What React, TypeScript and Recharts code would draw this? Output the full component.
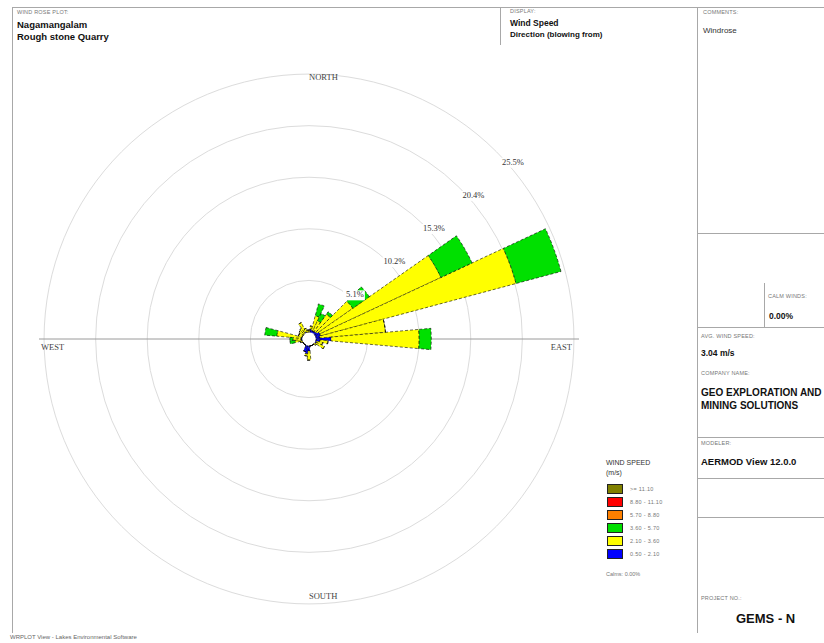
import React from "react";
import {
  RadialBarChart,
  RadialBar,
  PolarAngleAxis,
  PolarRadiusAxis,
  PolarGrid,
} from "recharts";

// 36 sectors, blowing-from direction in degrees
const directions = [
  0, 10, 20, 30, 40, 50, 60, 70, 80, 90, 100, 110, 120, 130, 140, 150, 160, 170,
  180, 190, 200, 210, 220, 230, 240, 250, 260, 270, 280, 290, 300, 310, 320, 330, 340, 350,
];

// frequency (%) per speed class
const speed05to21 = [
  0, 0.3, 0.2, 0.2, 0.2, 0.3, 0.5, 0.5, 0.4, 1.5, 0.4, 0.1, 0.1, 0, 0, 0, 0, 0,
  0.5, 0.8, 0.6, 0, 0, 0, 0, 0, 0.1, 0.1, 0.1, 0, 0, 0, 0, 0.1, 0, 0,
];
const speed21to36 = [
  0.2, 0.3, 1.5, 1.1, 2.1, 4.3, 13.2, 20.0, 6.5, 8.7, 0.8, 0.6, 0.9, 0.2, 0, 0, 0, 0,
  0.9, 0.2, 0, 0, 0, 0, 0, 0.2, 0.6, 0.8, 2.4, 0.4, 0.4, 0.5, 0.6, 1.0, 0.4, 0.2,
];
const speed36to57 = [
  0, 0, 1.2, 0.8, 0.3, 2.0, 3.4, 4.6, 0, 1.2, 0, 0, 0, 0, 0, 0, 0, 0,
  0, 0, 0, 0, 0, 0, 0, 0, 0.5, 0.3, 1.2, 0, 0, 0, 0, 0, 0, 0,
];
const speed57to88 = directions.map(() => 0);
const speed88to111 = directions.map(() => 0);
const speedAbove111 = directions.map(() => 0);

const speedLabels = ["0.50 - 2.10", "2.10 - 3.60", "3.60 - 5.70", "5.70 - 8.80", "8.80 - 11.10", ">= 11.10"];
const speedColors = ["#0000ff", "#ffff00", "#00e000", "#ff8000", "#ff0000", "#808000"];
const speedSeries = [speed05to21, speed21to36, speed36to57, speed57to88, speed88to111, speedAbove111];

const ringTicks = [0, 5.1, 10.2, 15.3, 20.4, 25.5];
const compassDirs = [0, 90, 180, 270];
const compassLabels = ["NORTH", "EAST", "SOUTH", "WEST"];

const rows = directions.map((dir, i) => {
  const row: Record<string, number> = { dir };
  speedSeries.forEach((s, k) => (row["s" + k] = s[i]));
  return row;
});

const W = 824;
const H = 643;
const CX = 309;
const CY = 339;
const R = 270;

const small = { fontSize: 5.5, color: "#777", letterSpacing: 0.2 };

function CompassTick(props: any) {
  const { payload } = props;
  const cx = props.cx ?? CX;
  const cy = props.cy ?? CY;
  const r = props.radius ?? R;
  const idx = compassDirs.indexOf(Number(payload.value));
  if (idx < 0) return <g />;
  const pos = [
    { x: cx, y: cy - r + 9, anchor: "start" },
    { x: cx + r - 7, y: cy + 9, anchor: "end" },
    { x: cx, y: cy + r - 12, anchor: "start" },
    { x: cx - r + 2, y: cy + 9, anchor: "start" },
  ][idx];
  return (
    <text
      x={pos.x}
      y={pos.y}
      textAnchor={pos.anchor}
      fontFamily="'Liberation Serif', serif"
      fontSize={8.5}
      fill="#444"
      dominantBaseline="middle"
    >
      {compassLabels[idx]}
    </text>
  );
}

function RingTick(props: any) {
  const { x, y, payload } = props;
  if (!payload.value) return <g />;
  const label = `${payload.value}%`;
  return (
    <g>
      <rect x={x - 11} y={y - 11} width={22} height={10} fill="#fff" />
      <text
        x={x + 1}
        y={y - 6}
        textAnchor="middle"
        dominantBaseline="middle"
        fontFamily="'Liberation Serif', serif"
        fontSize={8.5}
        fill="#333"
      >
        {label}
      </text>
    </g>
  );
}

const hLine = (left: number, top: number, width: number) => (
  <div style={{ position: "absolute", left, top, width, height: 0, borderTop: "1px solid #a8a8a8" }} />
);
const vLine = (left: number, top: number, height: number) => (
  <div style={{ position: "absolute", left, top, width: 0, height, borderLeft: "1px solid #a8a8a8" }} />
);
const txt = (left: number, top: number, content: string, style: React.CSSProperties = {}) => (
  <div style={{ position: "absolute", left, top, whiteSpace: "nowrap", lineHeight: 1, ...style }}>{content}</div>
);

export default function App() {
  return (
    <div
      style={{
        position: "absolute",
        left: 0,
        top: 0,
        width: W,
        height: H,
        background: "#fff",
        overflow: "hidden",
        fontFamily: "'Liberation Sans', Arial, sans-serif",
        color: "#111",
      }}
    >
      <div style={{ position: "absolute", left: 0, top: 0 }}>
        <RadialBarChart
          width={W}
          height={H}
          data={rows}
          layout="centric"
          cx={CX}
          cy={CY}
          innerRadius={7}
          outerRadius={R}
          startAngle={85}
          endAngle={-275}
          barCategoryGap={0}
          barGap={0}
          margin={{ top: 0, right: 0, bottom: 0, left: 0 }}
        >
          <PolarGrid gridType="circle" radialLines={false} stroke="#dcdcdc" />
          <PolarGrid gridType="circle" polarAngles={[0, 180]} polarRadius={[]} radialLines stroke="#9a9a9a" />
          <PolarAngleAxis
            type="category"
            dataKey="dir"
            orientation="inner"
            axisLine={false}
            tickLine={false}
            tick={<CompassTick />}
          />
          <PolarRadiusAxis
            type="number"
            domain={[0, 25.5]}
            ticks={ringTicks}
            angle={40}
            axisLine={false}
            tickLine={false}
            tick={<RingTick />}
          />
          {speedSeries.map((_, k) => (
            <RadialBar
              key={k}
              dataKey={"s" + k}
              stackId="rose"
              fill={speedColors[k]}
              stroke={k > 2 ? "none" : "#000"}
              strokeWidth={0.6}
              strokeDasharray="3 2"
              isAnimationActive={false}
            />
          ))}
        </RadialBarChart>
      </div>

      {/* frame */}
      {hLine(12, 7, 812)}
      {vLine(12, 7, 626)}
      {vLine(697, 7, 626)}
      {vLine(500, 7, 38)}
      {hLine(697, 233, 127)}
      {vLine(764, 283, 44)}
      {hLine(697, 327, 127)}
      {hLine(697, 437, 127)}
      {hLine(697, 478, 127)}
      {hLine(697, 517, 127)}

      {/* header */}
      {txt(17, 10, "WIND ROSE PLOT:", small)}
      {txt(17, 20, "Nagamangalam", { fontSize: 9.5, fontWeight: 700 })}
      {txt(17, 32, "Rough stone Quarry", { fontSize: 9.5, fontWeight: 700 })}
      {txt(510, 9, "DISPLAY:", small)}
      {txt(510, 19, "Wind Speed", { fontSize: 8.5, fontWeight: 700 })}
      {txt(510, 31, "Direction (blowing from)", { fontSize: 8, fontWeight: 700 })}
      {txt(703, 10, "COMMENTS:", small)}
      {txt(703, 27, "Windrose", { fontSize: 8, color: "#333" })}

      {/* right panel */}
      {txt(768, 294, "CALM WINDS:", small)}
      {txt(769, 312, "0.00%", { fontSize: 8.5, fontWeight: 700 })}
      {txt(701, 334, "AVG. WIND SPEED:", small)}
      {txt(701, 349, "3.04 m/s", { fontSize: 8.5, fontWeight: 700 })}
      {txt(701, 371, "COMPANY NAME:", small)}
      {txt(701, 388, "GEO EXPLORATION AND", { fontSize: 10, fontWeight: 700 })}
      {txt(701, 401, "MINING SOLUTIONS", { fontSize: 10, fontWeight: 700 })}
      {txt(701, 441, "MODELER:", small)}
      {txt(701, 457, "AERMOD View 12.0.0", { fontSize: 9.5, fontWeight: 700 })}
      {txt(701, 596, "PROJECT NO.:", small)}
      {txt(736, 612, "GEMS - N", { fontSize: 13, fontWeight: 700 })}

      {/* legend */}
      {txt(606, 459, "WIND SPEED", { fontSize: 7, color: "#333" })}
      {txt(606, 469, "(m/s)", { fontSize: 7, color: "#333" })}
      {speedLabels
        .map((label, k) => ({ label, color: speedColors[k] }))
        .reverse()
        .map((item, i) => (
          <div key={item.label} style={{ position: "absolute", left: 607, top: 484 + i * 13, display: "flex", alignItems: "center" }}>
            <div style={{ width: 16, height: 10, background: item.color, border: "1px solid #222", boxSizing: "border-box" }} />
            <span style={{ marginLeft: 7, fontSize: 5.5, color: "#777", letterSpacing: 0.3 }}>{item.label}</span>
          </div>
        ))}
      {txt(606, 572, "Calms: 0.00%", { fontSize: 5.5, color: "#777" })}

      {txt(10, 634, "WRPLOT View - Lakes Environmental Software", { fontSize: 6, color: "#666" })}
    </div>
  );
}
